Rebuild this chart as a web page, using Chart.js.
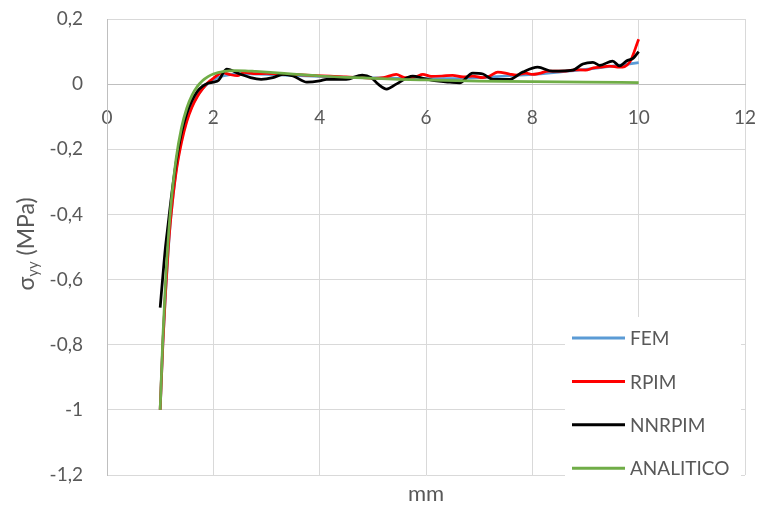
<!DOCTYPE html>
<html>
<head>
<meta charset="utf-8">
<script src="https://cdn.jsdelivr.net/npm/chart.js@4/dist/chart.umd.min.js"></script>
<style>
  html, body { margin: 0; padding: 0; background: #ffffff; }
  #wrap { width: 758px; height: 506px; }
</style>
</head>
<body>
<div id="wrap"><canvas id="c" width="758" height="506"></canvas></div>
<script>
// Stress sigma_yy (MPa) along the radial distance (mm), four solutions

const femX = [1.0, 1.05, 1.1, 1.15, 1.2, 1.3, 1.4, 1.5, 1.6, 1.7, 1.8, 1.9, 2.0, 2.2, 2.4, 2.6, 2.8, 3.0, 3.5, 4.0, 4.5, 5.0, 5.5, 6.0, 6.5, 7.0, 7.5, 8.0, 8.5, 9.0, 9.5, 10.0];
const femY = [-1.0, -0.80, -0.645, -0.515, -0.41, -0.265, -0.17, -0.108, -0.066, -0.036, -0.014, 0.002, 0.014, 0.026, 0.031, 0.032, 0.031, 0.030, 0.027, 0.024, 0.021, 0.019, 0.018, 0.017, 0.017, 0.020, 0.025, 0.030, 0.037, 0.045, 0.055, 0.066];

const rpimX = [1.0, 1.05, 1.1, 1.15, 1.2, 1.3, 1.4, 1.5, 1.6, 1.7, 1.8, 1.9, 2.0, 2.18, 2.3, 2.45, 2.58, 2.8, 3.0, 3.3, 3.6, 3.9, 4.2, 4.5, 4.8, 5.0, 5.2, 5.44, 5.6, 5.8, 5.94, 6.1, 6.3, 6.5, 6.7, 6.88, 7.07, 7.2, 7.35, 7.57, 7.7, 7.88, 8.0, 8.13, 8.3, 8.44, 8.63, 8.8, 9.0, 9.15, 9.27, 9.45, 9.64, 9.83, 10.0];
const rpimY = [-1.0, -0.80, -0.64, -0.51, -0.41, -0.27, -0.18, -0.115, -0.07, -0.038, -0.014, 0.005, 0.018, 0.035, 0.030, 0.026, 0.036, 0.032, 0.033, 0.030, 0.029, 0.026, 0.025, 0.022, 0.020, 0.018, 0.020, 0.030, 0.020, 0.022, 0.030, 0.024, 0.025, 0.027, 0.022, 0.025, 0.020, 0.025, 0.037, 0.031, 0.028, 0.034, 0.030, 0.033, 0.040, 0.040, 0.040, 0.044, 0.043, 0.050, 0.052, 0.055, 0.052, 0.067, 0.138];

const nnrpimX = [1.0, 1.05, 1.1, 1.15, 1.2, 1.3, 1.4, 1.5, 1.6, 1.7, 1.8, 1.9, 2.0, 2.1, 2.25, 2.5, 2.7, 2.9, 3.12, 3.31, 3.5, 3.76, 4.0, 4.13, 4.5, 4.8, 4.97, 5.1, 5.26, 5.44, 5.75, 5.94, 6.2, 6.45, 6.63, 6.88, 7.07, 7.26, 7.57, 7.82, 8.1, 8.38, 8.76, 8.95, 9.14, 9.27, 9.51, 9.64, 9.77, 9.9, 10.0];
const nnrpimY = [-0.686, -0.59, -0.50, -0.43, -0.36, -0.24, -0.15, -0.09, -0.05, -0.022, -0.006, 0.003, 0.006, 0.012, 0.046, 0.031, 0.020, 0.015, 0.020, 0.030, 0.025, 0.006, 0.010, 0.015, 0.015, 0.028, 0.020, 0.000, -0.015, 0.000, 0.025, 0.018, 0.010, 0.006, 0.004, 0.034, 0.031, 0.015, 0.015, 0.037, 0.052, 0.040, 0.043, 0.062, 0.067, 0.058, 0.071, 0.056, 0.071, 0.080, 0.100];

const analiticoX = [1.0, 1.05, 1.1, 1.15, 1.2, 1.3, 1.4, 1.5, 1.6, 1.7, 1.8, 1.9, 2.0, 2.2, 2.4, 2.6, 2.8, 3.0, 3.5, 4.0, 4.5, 5.0, 5.5, 6.0, 7.0, 8.0, 9.0, 10.0];
const analiticoY = [-1.0, -0.78, -0.61, -0.48, -0.376, -0.229, -0.135, -0.074, -0.034, -0.007, 0.011, 0.023, 0.031, 0.039, 0.0416, 0.041, 0.039, 0.037, 0.031, 0.025, 0.021, 0.018, 0.015, 0.013, 0.0095, 0.0074, 0.006, 0.005];

const seriesNames = ['FEM', 'RPIM', 'NNRPIM', 'ANALITICO'];
const seriesColors = ['#5b9bd5', '#ff0000', '#000000', '#70ad47'];

const xTicks = [0, 2, 4, 6, 8, 10, 12];
const yTicks = [0.2, 0, -0.2, -0.4, -0.6, -0.8, -1.0, -1.2];

const xTitle = 'mm';
const yTitleMain = 'σ';
const yTitleSub = 'yy';
const yTitleTail = ' (MPa)';

const FONT = 'Lato, "Open Sans", sans-serif';
const TEXT_COLOR = '#595959';

function toPoints(xs, ys) {
  return xs.map((x, i) => ({ x: x, y: ys[i] }));
}

const seriesData = [
  toPoints(femX, femY),
  toPoints(rpimX, rpimY),
  toPoints(nnrpimX, nnrpimY),
  toPoints(analiticoX, analiticoY)
];

function commaNumber(v) {
  const r = Math.round(v * 10) / 10;
  return String(r).replace('.', ',');
}

// the plot box is set by layout.padding alone
function noScalePadding(scale) {
  scale.paddingTop = 0;
  scale.paddingBottom = 0;
  scale.paddingLeft = 0;
  scale.paddingRight = 0;
}

// Legend panel inside the plot, axis titles with the subscript
const decorations = {
  id: 'decorations',
  afterDraw(chart) {
    const ctx = chart.ctx;
    const a = chart.chartArea;
    ctx.save();

    const lx = a.right - 180;
    const ly = a.bottom - 158;
    ctx.fillStyle = '#ffffff';
    ctx.fillRect(lx, ly, 176, 161);

    ctx.font = '19px ' + FONT;
    ctx.textBaseline = 'middle';
    ctx.textAlign = 'left';
    seriesNames.forEach((name, i) => {
      const y = a.bottom - 137 + i * 43.4;
      ctx.strokeStyle = seriesColors[i];
      ctx.lineWidth = 3;
      ctx.beginPath();
      ctx.moveTo(lx + 7, y);
      ctx.lineTo(lx + 60, y);
      ctx.stroke();
      ctx.fillStyle = TEXT_COLOR;
      ctx.fillText(name, lx + 65, y + 1);
    });

    // x title
    ctx.textAlign = 'center';
    ctx.fillStyle = TEXT_COLOR;
    ctx.font = '22px ' + FONT;
    ctx.fillText(xTitle, (a.left + a.right) / 2, 494);

    // y title, rotated, with subscript
    ctx.translate(27, (a.top + a.bottom) / 2 - 3);
    ctx.rotate(-Math.PI / 2);
    const mainFont = '23px ' + FONT;
    const subFont = '15px ' + FONT;
    ctx.font = mainFont;
    const w1 = ctx.measureText(yTitleMain).width;
    const w3 = ctx.measureText(yTitleTail).width;
    ctx.font = subFont;
    const w2 = ctx.measureText(yTitleSub).width;
    let x0 = -(w1 + w2 + w3) / 2;
    ctx.textAlign = 'left';
    ctx.textBaseline = 'middle';
    ctx.font = mainFont;
    ctx.fillText(yTitleMain, x0, 0);
    ctx.font = subFont;
    ctx.fillText(yTitleSub, x0 + w1, 6);
    ctx.font = mainFont;
    ctx.fillText(yTitleTail, x0 + w1 + w2, 0);

    ctx.restore();
  }
};

const datasets = seriesNames.map((name, i) => ({
  label: name,
  data: seriesData[i],
  borderColor: seriesColors[i],
  backgroundColor: seriesColors[i],
  borderWidth: 2.75,
  pointRadius: 0,
  pointHoverRadius: 0,
  fill: false,
  cubicInterpolationMode: 'monotone',
  order: 4 - i
}));

new Chart(document.getElementById('c'), {
  type: 'line',
  data: { datasets: datasets },
  plugins: [decorations],
  options: {
    responsive: false,
    animation: false,
    devicePixelRatio: 1,
    layout: { padding: { left: 0, right: 13, top: 19, bottom: 31 } },
    plugins: {
      legend: { display: false },
      tooltip: { enabled: false },
      title: { display: false }
    },
    scales: {
      x: {
        type: 'linear',
        min: 0,
        max: 12,
        position: { y: 0 },
        afterBuildTicks(scale) { scale.ticks = xTicks.map(v => ({ value: v })); },
        afterFit(scale) { noScalePadding(scale); },
        ticks: {
          font: { family: FONT, size: 19 },
          color: TEXT_COLOR,
          padding: 22,
          maxRotation: 0,
          autoSkip: false,
          callback: v => commaNumber(v)
        },
        grid: { color: '#d9d9d9', lineWidth: 1, drawTicks: false },
        border: { color: '#bfbfbf', width: 1 }
      },
      y: {
        type: 'linear',
        min: -1.2,
        max: 0.2,
        position: 'left',
        afterBuildTicks(scale) { scale.ticks = yTicks.map(v => ({ value: v })); },
        afterFit(scale) { scale.width = 107; noScalePadding(scale); },
        ticks: {
          font: { family: FONT, size: 19 },
          color: TEXT_COLOR,
          padding: 24,
          autoSkip: false,
          callback: v => commaNumber(v)
        },
        grid: { color: '#d9d9d9', lineWidth: 1, drawTicks: false },
        border: { color: '#bfbfbf', width: 1 }
      }
    }
  }
});
</script>
</body>
</html>
